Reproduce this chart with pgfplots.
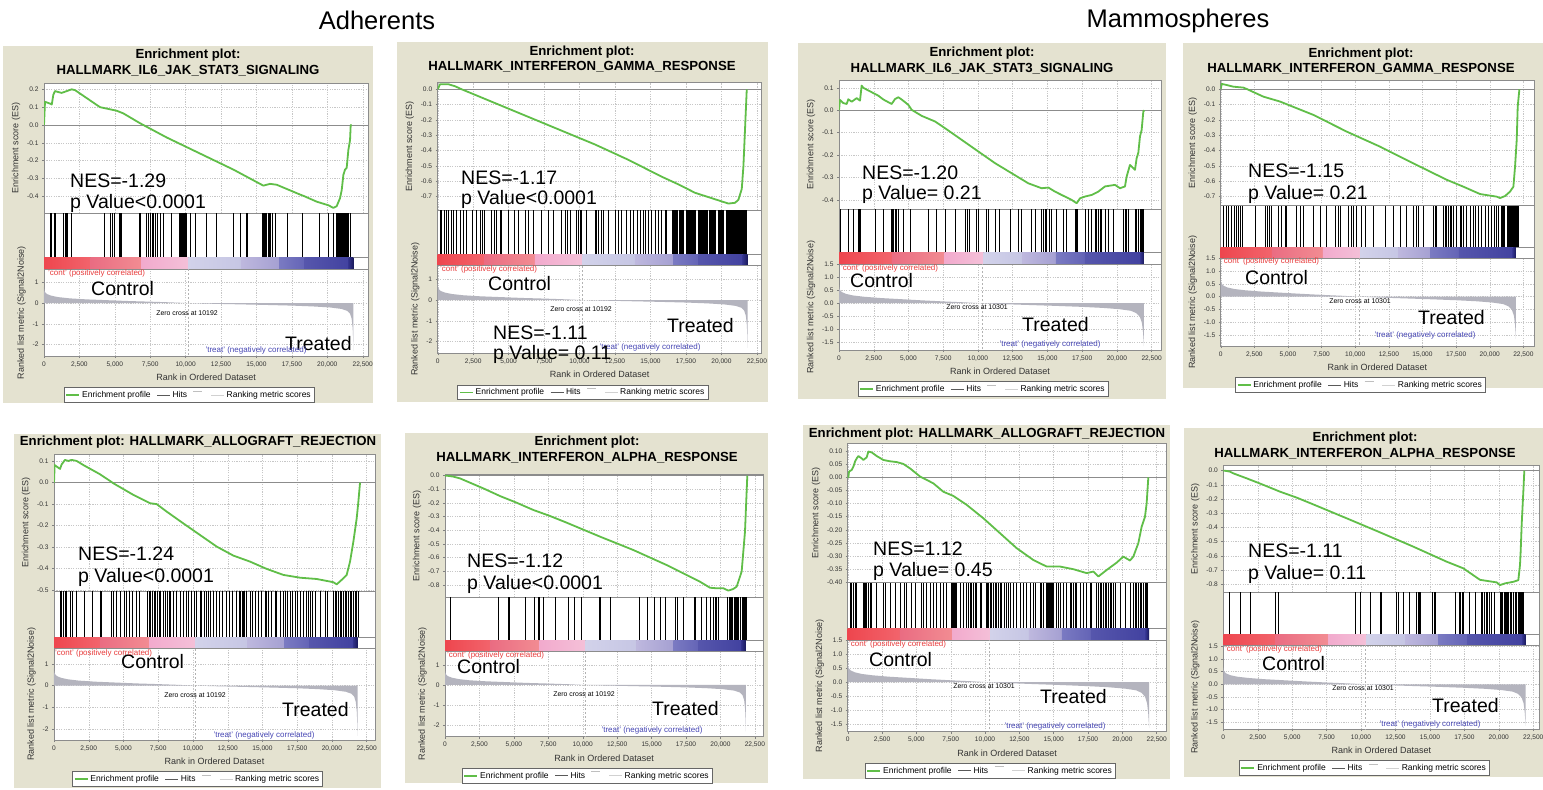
\documentclass[border=0pt]{standalone}
\usepackage{pgfplots}
\pgfplotsset{compat=1.18}
\usepackage{pgfplotstable}
\usepackage{fontspec}
\setmainfont{Liberation Sans}

\definecolor{beige}{RGB}{228,226,208}
\definecolor{esgreen}{RGB}{96,190,72}
\definecolor{contred}{RGB}{232,60,60}
\definecolor{treatblue}{RGB}{70,70,180}
\definecolor{metgray}{RGB}{180,180,190}
\definecolor{cbr1}{RGB}{238,70,78}\definecolor{cbr2}{RGB}{242,100,108}
\definecolor{cbs1}{RGB}{234,108,130}\definecolor{cbs2}{RGB}{242,140,146}
\definecolor{cbp1}{RGB}{242,170,205}\definecolor{cbp2}{RGB}{244,192,216}
\definecolor{cbl1}{RGB}{210,210,234}\definecolor{cbl2}{RGB}{198,198,228}
\definecolor{cbm1}{RGB}{190,184,222}\definecolor{cbm2}{RGB}{165,160,210}
\definecolor{cbb1}{RGB}{122,122,194}\definecolor{cbb2}{RGB}{100,100,182}
\definecolor{cbd1}{RGB}{86,86,172}\definecolor{cbd2}{RGB}{66,66,160}
\definecolor{cbn1}{RGB}{50,50,140}\definecolor{cbn2}{RGB}{25,25,90}

\newcommand\tickf{\fontsize{6.6}{7}\selectfont}
\newcommand\labf{\fontsize{9}{10}\selectfont}
\newcommand\legf{\fontsize{8.5}{9}\selectfont}
\newcommand\titf{\fontsize{13.2}{14}\selectfont\bfseries}
\newcommand\bigf{\fontsize{19.5}{21}\selectfont}
\newcommand\smf{\fontsize{8}{9}\selectfont}
\newcommand\zcf{\fontsize{6.9}{7}\selectfont}

\tikzset{bigt/.style={font=\bigf, anchor=base west, inner sep=0pt},
  conttxt/.style={font=\smf, text=contred, anchor=west, inner sep=0pt},
  treattxt/.style={font=\smf, text=treatblue, inner sep=0pt}}

\pgfplotstableread{
x y
0 0
0 0.80
25 0.62
80 0.52
200 0.44
500 0.36
1000 0.29
1800 0.23
3000 0.18
4500 0.14
6000 0.10
7500 0.07
9000 0.035
10192 0
11500 -0.025
13500 -0.055
15500 -0.085
17500 -0.12
19000 -0.16
20200 -0.21
21000 -0.28
21400 -0.37
21600 -0.50
21720 -0.75
21790 -1.2
21830 -1.8
21850 -2.3
21850 0
}\metAdh

\pgfplotstableread{
x y
0 0
0 0.70
25 0.58
80 0.50
200 0.43
500 0.36
1000 0.30
1800 0.25
3000 0.20
4500 0.155
6000 0.11
7500 0.07
9000 0.035
10301 0
11500 -0.03
13500 -0.065
15500 -0.10
17500 -0.14
19000 -0.18
20200 -0.23
21000 -0.29
21400 -0.38
21650 -0.52
21800 -0.75
21880 -1.1
21920 -1.4
21950 -1.65
21950 0
}\metMam

\pgfplotsset{
 legend image code/.code={\draw[#1] (0pt,0pt) -- (13pt,0pt);},
 gbase/.style={scale only axis, anchor=north west, xmin=0,
   axis line style={draw=black!45, line width=0.5pt},
   scaled x ticks=false, scaled y ticks=false,
   /pgf/number format/assume math mode=true,
   /pgf/number format/1000 sep={,},
   tick style={draw=black!50, line width=0.4pt},
   major tick length=2pt, tick align=outside,
   ticklabel style={font=\tickf, text=black!80},
   xtick={0,2500,5000,7500,10000,12500,15000,17500,20000,22500},
   grid style={draw=black!22, line width=0.4pt, dash pattern=on 1.2pt off 1.2pt},
   label style={font=\labf, text=black!80},
   axis background/.style={fill=white}},
 esax/.style={gbase, xticklabels={}, xtick style={draw=none}, xmajorgrids, ymajorgrids,
   ytick pos=left, ylabel={Enrichment score (ES)},
   yticklabel style={/pgf/number format/.cd, fixed, fixed zerofill, precision=1}},
 hitsax/.style={gbase, ymin=0, ymax=1, xtick=\empty, ytick=\empty},
 metax/.style={gbase, xmajorgrids, ymajorgrids, xtick pos=bottom, ytick pos=left,
   xlabel={Rank in Ordered Dataset}, ylabel={Ranked list metric (Signal2Noise)},
   legend style={at={(0.5,0)}, anchor=center, xshift=-17pt, yshift=-39pt,
     legend columns=4, draw=black!60, line width=0.5pt, font=\legf, inner sep=1.5pt,
     fill=white, /tikz/every even column/.append style={column sep=4pt}},
   legend cell align=left},
 mamticks/.style={ytick={-1.5,-1,-0.5,0,0.5,1,1.5},
   yticklabel style={/pgf/number format/.cd, fixed, fixed zerofill, precision=1}},
 adhticks/.style={ytick={-2,-1,0,1}},
 esline/.style={draw=esgreen, line width=1.8pt, line join=round, forget plot},
 zeroline/.style={draw=black!45, line width=0.6pt, forget plot},
 hitline/.style={ycomb, draw=black, line width=0.75pt, mark=none, forget plot},
 hitblock/.style={fill=black, draw=none, forget plot},
 metfill/.style={fill=metgray, draw=none, forget plot},
 zcline/.style={draw=black!30, line width=0.5pt, dash pattern=on 2pt off 2pt, forget plot},
}

\newcommand\legendstuff{%
\addlegendimage{esgreen, line width=1.6pt}\addlegendentry{Enrichment profile}
\addlegendimage{black!65, line width=0.9pt}\addlegendentry{Hits}
\addlegendimage{legend image code/.code={\draw[black!25,line width=0.6pt] (0pt,4pt)--(9pt,4pt);}}\addlegendentry{}
\addlegendimage{black!18, line width=0.9pt}\addlegendentry{Ranking metric scores}}

\newcommand\cbarAdh{%
\addplot[draw=none,left color=cbr1,right color=cbr2,forget plot] coordinates {(0,0)(3300,0)(3300,1)(0,1)} --cycle;
\addplot[draw=none,left color=cbs1,right color=cbs2,forget plot] coordinates {(3300,0)(6850,0)(6850,1)(3300,1)} --cycle;
\addplot[draw=none,left color=cbp1,right color=cbp2,forget plot] coordinates {(6850,0)(10192,0)(10192,1)(6850,1)} --cycle;
\addplot[draw=none,left color=cbl1,right color=cbl2,forget plot] coordinates {(10192,0)(13900,0)(13900,1)(10192,1)} --cycle;
\addplot[draw=none,left color=cbm1,right color=cbm2,forget plot] coordinates {(13900,0)(16600,0)(16600,1)(13900,1)} --cycle;
\addplot[draw=none,left color=cbb1,right color=cbb2,forget plot] coordinates {(16600,0)(18400,0)(18400,1)(16600,1)} --cycle;
\addplot[draw=none,left color=cbd1,right color=cbd2,forget plot] coordinates {(18400,0)(21500,0)(21500,1)(18400,1)} --cycle;
\addplot[draw=none,left color=cbn1,right color=cbn2,forget plot] coordinates {(21500,0)(21850,0)(21850,1)(21500,1)} --cycle;}

\newcommand\cbarMam{%
\addplot[draw=none,left color=cbr1,right color=cbr2,forget plot] coordinates {(0,0)(3800,0)(3800,1)(0,1)} --cycle;
\addplot[draw=none,left color=cbs1,right color=cbs2,forget plot] coordinates {(3800,0)(7600,0)(7600,1)(3800,1)} --cycle;
\addplot[draw=none,left color=cbp1,right color=cbp2,forget plot] coordinates {(7600,0)(10400,0)(10400,1)(7600,1)} --cycle;
\addplot[draw=none,left color=cbl1,right color=cbl2,forget plot] coordinates {(10400,0)(13200,0)(13200,1)(10400,1)} --cycle;
\addplot[draw=none,left color=cbm1,right color=cbm2,forget plot] coordinates {(13200,0)(15600,0)(15600,1)(13200,1)} --cycle;
\addplot[draw=none,left color=cbb1,right color=cbb2,forget plot] coordinates {(15600,0)(17700,0)(17700,1)(15600,1)} --cycle;
\addplot[draw=none,left color=cbd1,right color=cbd2,forget plot] coordinates {(17700,0)(21700,0)(21700,1)(17700,1)} --cycle;
\addplot[draw=none,left color=cbn1,right color=cbn2,forget plot] coordinates {(21700,0)(21950,0)(21950,1)(21700,1)} --cycle;}

\begin{document}
\begin{tikzpicture}
\fill[white] (0pt,0pt) rectangle (1543pt,-790pt);
\useasboundingbox (0pt,0pt) rectangle (1543pt,-790pt);

\node[font=\fontsize{25.5}{27}\selectfont] at (377pt,-20.5pt) {Adherents};
\node[font=\fontsize{25.5}{27}\selectfont] at (1178pt,-20.5pt) {Mammospheres};

\fill[beige] (3pt,-46pt) rectangle (373pt,-403pt);
\fill[beige] (397pt,-42pt) rectangle (768pt,-402pt);
\fill[beige] (798pt,-43pt) rectangle (1166pt,-399pt);
\fill[beige] (1183pt,-43pt) rectangle (1543pt,-388pt);
\fill[beige] (14pt,-434pt) rectangle (381pt,-788pt);
\fill[beige] (405pt,-433pt) rectangle (768pt,-783pt);
\fill[beige] (803pt,-425pt) rectangle (1170pt,-779pt);
\fill[beige] (1184pt,-428pt) rectangle (1543pt,-777pt);

% ================= P1 =================
\node[font=\titf] at (188pt,-55pt) {Enrichment plot:};
\node[font=\titf] at (188pt,-71pt) {HALLMARK\_IL6\_JAK\_STAT3\_SIGNALING};
\begin{axis}[esax, at={(44pt,-83pt)}, width=324.3pt, height=130pt, xmax=22895,
  ymin=-0.4935, ymax=0.2355, ytick={-0.4,-0.3,-0.2,-0.1,0,0.1,0.2}]
\addplot[zeroline] coordinates {(0,0)(40000,0)};
\addplot[esline] coordinates {(0,0)(71,0.13)(424,0.12)(550,0.115)(659,0.17)(777,0.19)(1000,0.185)(1247,0.18)(1600,0.19)(1954,0.20)(2200,0.195)(3954,0.10)(5131,0.08)(5602,0.065)(6778,0.01)(7014,0)(8661,-0.07)(11015,-0.16)(13368,-0.25)(15487,-0.34)(15957,-0.33)(16428,-0.335)(18076,-0.39)(18400,-0.40)(19252,-0.43)(20076,-0.45)(20429,-0.465)(20665,-0.455)(20900,-0.41)(21018,-0.365)(21135,-0.28)(21253,-0.25)(21370,-0.24)(21488,-0.14)(21606,-0.085)(21653,0)(21724,0)};
\end{axis}
\begin{axis}[hitsax, at={(44pt,-213pt)}, width=324.3pt, height=44pt, xmax=22895]
\addplot[hitline] coordinates {(424,1)(541,1)(706,1)(800,1)(1365,1)(1507,1)(1601,1)(1671,1)(1954,1)(4237,1)(4661,1)(4802,1)(4943,1)(5320,1)(5391,1)(5461,1)(6732,1)(6803,1)(7250,1)(7392,1)(7533,1)(7627,1)(7721,1)(7862,1)(8004,1)(8192,1)(8427,1)(9016,1)(9557,1)(9628,1)(9698,1)(9769,1)(9840,1)(9910,1)(10005,1)(10075,1)(10310,1)(10664,1)(11488,1)(12194,1)(13371,1)(13842,1)(14265,1)(14359,1)(15395,1)(15489,1)(15560,1)(15654,1)(15725,1)(15819,1)(15913,1)(16007,1)(16148,1)(16313,1)(17184,1)(18220,1)(19421,1)(20080,1)(20433,1)(20621,1)(20692,1)(20762,1)(20833,1)(20904,1)(20974,1)(21045,1)(21115,1)(21186,1)(21256,1)(21327,1)(21421,1)(21516,1)(21610,1)};
\end{axis}
\begin{axis}[hitsax, at={(44pt,-257pt)}, width=324.3pt, height=12pt, xmax=22895]
\cbarAdh
\end{axis}
\begin{axis}[metax, adhticks, at={(44pt,-269pt)}, width=324.3pt, height=87pt, xmax=22895, ymin=-2.55, ymax=1.645]
\addplot[metfill] table {\metAdh} -- cycle;
\addplot[zcline] coordinates {(10192,-5)(10192,5)};
\legendstuff
\end{axis}
\node[bigt] at (70pt,-187pt) {NES=-1.29};
\node[bigt] at (70pt,-208pt) {p Value<0.0001};
\node[bigt] at (91pt,-295pt) {Control};
\node[bigt] at (285pt,-350pt) {Treated};
\node[font=\zcf] at (187pt,-313pt) {Zero cross at 10192};
\node[treattxt] at (256pt,-350pt) {'treat' (negatively correlated)};
\node[conttxt] at (48pt,-273pt) {'cont' (positively correlated)};

% ================= P2 =================
\node[font=\titf] at (582pt,-52pt) {Enrichment plot:};
\node[font=\titf] at (582pt,-67pt) {HALLMARK\_INTERFERON\_GAMMA\_RESPONSE};
\begin{axis}[esax, at={(437.7pt,-82.7pt)}, width=324pt, height=127.3pt, xmax=22838,
  ymin=-0.787, ymax=0.043, ytick={-0.7,-0.6,-0.5,-0.4,-0.3,-0.2,-0.1,0}]
\addplot[zeroline] coordinates {(0,0)(40000,0)};
\addplot[esline] coordinates {(0,0)(165,0.033)(752,0.033)(1222,0.02)(1692,0)(2867,-0.045)(4042,-0.09)(6392,-0.18)(8742,-0.27)(11092,-0.36)(13442,-0.46)(15792,-0.57)(16967,-0.62)(18142,-0.675)(19317,-0.71)(20492,-0.745)(20962,-0.74)(21197,-0.72)(21432,-0.65)(21550,-0.5)(21667,-0.25)(21785,0)};
\end{axis}
\begin{axis}[hitsax, at={(437.7pt,-210pt)}, width=324pt, height=44pt, xmax=22838]
\addplot[hitline] coordinates {(165,1)(282,1)(447,1)(588,1)(752,1)(940,1)(1105,1)(1340,1)(1575,1)(1810,1)(2045,1)(2444,1)(2750,1)(2985,1)(3149,1)(3290,1)(3807,1)(3995,1)(4160,1)(4395,1)(4512,1)(4982,1)(5405,1)(5687,1)(6157,1)(6392,1)(6745,1)(7332,1)(7802,1)(8155,1)(8742,1)(8977,1)(9165,1)(9353,1)(9800,1)(9917,1)(10035,1)(10152,1)(10505,1)(11092,1)(11186,1)(11327,1)(11515,1)(11680,1)(12032,1)(12502,1)(12737,1)(12972,1)(13325,1)(13560,1)(13795,1)(14100,1)(14265,1)(14500,1)(14664,1)(14852,1)(15087,1)(15322,1)(15557,1)(15792,1)(16027,1)(16145,1)};
\addplot[hitblock] coordinates {(16497,0)(16920,0)(16920,1)(16497,1)} --cycle;
\addplot[hitblock] coordinates {(17038,0)(17343,0)(17343,1)(17038,1)} --cycle;
\addplot[hitblock] coordinates {(17484,0)(18189,0)(18189,1)(17484,1)} --cycle;
\addplot[hitblock] coordinates {(18330,0)(19035,0)(19035,1)(18330,1)} --cycle;
\addplot[hitblock] coordinates {(19153,0)(19599,0)(19599,1)(19153,1)} --cycle;
\addplot[hitblock] coordinates {(19740,0)(20210,0)(20210,1)(19740,1)} --cycle;
\addplot[hitblock] coordinates {(20328,0)(21785,0)(21785,1)(20328,1)} --cycle;
\end{axis}
\begin{axis}[hitsax, at={(437.7pt,-254pt)}, width=324pt, height=11.3pt, xmax=22838]
\cbarAdh
\end{axis}
\begin{axis}[metax, adhticks, at={(437.7pt,-265.3pt)}, width=324pt, height=88pt, xmax=22838, ymin=-2.56, ymax=1.67]
\addplot[metfill] table {\metAdh} -- cycle;
\addplot[zcline] coordinates {(10192,-5)(10192,5)};
\legendstuff
\end{axis}
\node[bigt] at (461pt,-184pt) {NES=-1.17};
\node[bigt] at (461pt,-204pt) {p Value<0.0001};
\node[bigt] at (488pt,-290pt) {Control};
\node[bigt] at (667pt,-332pt) {Treated};
\node[font=\zcf] at (581pt,-309pt) {Zero cross at 10192};
\node[treattxt] at (650pt,-347pt) {'treat' (negatively correlated)};
\node[conttxt] at (440pt,-269pt) {'cont' (positively correlated)};
\node[bigt] at (493pt,-339pt) {NES=-1.11};
\node[bigt] at (493pt,-359pt) {p Value= 0.11};

% ================= P3 =================
\node[font=\titf] at (982pt,-53pt) {Enrichment plot:};
\node[font=\titf] at (982pt,-69pt) {HALLMARK\_IL6\_JAK\_STAT3\_SIGNALING};
\begin{axis}[esax, at={(839pt,-80pt)}, width=322pt, height=129.3pt, xmax=23176,
  ymin=-0.442, ymax=0.135, ytick={-0.4,-0.3,-0.2,-0.1,0,0.1}]
\addplot[zeroline] coordinates {(0,0)(40000,0)};
\addplot[esline] coordinates {(0,0)(72,0.046)(312,0.032)(552,0.028)(672,0.049)(912,0.038)(1271,0.054)(1511,0.043)(1631,0.11)(1751,0.10)(2831,0.065)(3191,0.048)(3790,0.028)(4030,0.05)(4270,0.058)(4510,0.048)(4990,0.024)(5230,0.002)(5950,-0.025)(6909,-0.05)(7629,-0.08)(8828,-0.132)(10028,-0.184)(11227,-0.236)(12427,-0.281)(13626,-0.326)(14586,-0.348)(15066,-0.345)(15545,-0.363)(16025,-0.378)(16745,-0.40)(17105,-0.415)(17345,-0.393)(17705,-0.385)(18184,-0.378)(18664,-0.363)(19144,-0.34)(19864,-0.333)(20224,-0.348)(20583,-0.34)(20703,-0.296)(20943,-0.244)(21303,-0.266)(21423,-0.214)(21543,-0.19)(21663,-0.117)(21783,-0.088)(21903,-0.006)(21975,0)};
\end{axis}
\begin{axis}[hitsax, at={(839pt,-209.3pt)}, width=322pt, height=43.4pt, xmax=23176]
\addplot[hitline] coordinates {(72,1)(672,1)(1032,1)(1391,1)(1463,1)(1511,1)(1559,1)(2591,1)(3191,1)(3742,1)(3838,1)(3934,1)(4030,1)(4150,1)(4270,1)(4630,1)(5110,1)(6429,1)(7029,1)(7629,1)(7677,1)(8349,1)(9116,1)(9260,1)(9356,1)(9908,1)(10028,1)(10628,1)(10748,1)(11227,1)(11515,1)(12307,1)(12907,1)(13147,1)(13866,1)(14154,1)(14586,1)(14706,1)(14826,1)(14946,1)(15114,1)(15306,1)(15665,1)(16145,1)(16385,1)(17033,1)(17105,1)(17177,1)(17705,1)(17944,1)(18184,1)(18424,1)(18544,1)(18664,1)(18784,1)(18904,1)(19144,1)(19384,1)(19744,1)(20463,1)(20583,1)(20703,1)(20823,1)(21303,1)(21423,1)(21543,1)(21663,1)(21735,1)(21807,1)(21879,1)};
\end{axis}
\begin{axis}[hitsax, at={(839pt,-252.7pt)}, width=322pt, height=11.3pt, xmax=23176]
\cbarMam
\end{axis}
\begin{axis}[metax, mamticks, at={(839pt,-264pt)}, width=322pt, height=86pt, xmax=23176, ymin=-1.80, ymax=1.51]
\addplot[metfill] table {\metMam} -- cycle;
\addplot[zcline] coordinates {(10301,-5)(10301,5)};
\legendstuff
\end{axis}
\node[bigt] at (862pt,-179pt) {NES=-1.20};
\node[bigt] at (862pt,-199pt) {p Value= 0.21};
\node[bigt] at (850pt,-287pt) {Control};
\node[bigt] at (1022pt,-331pt) {Treated};
\node[font=\zcf] at (977pt,-307pt) {Zero cross at 10301};
\node[treattxt] at (1050pt,-344pt) {'treat' (negatively correlated)};
\node[conttxt] at (841pt,-268pt) {'cont' (positively correlated)};

% ================= P4 =================
\node[font=\titf] at (1361pt,-54pt) {Enrichment plot:};
\node[font=\titf] at (1361pt,-69pt) {HALLMARK\_INTERFERON\_GAMMA\_RESPONSE};
\begin{axis}[esax, at={(1220.7pt,-80.7pt)}, width=313.3pt, height=125pt, xmax=23290,
  ymin=-0.759, ymax=0.056, ytick={-0.7,-0.6,-0.5,-0.4,-0.3,-0.2,-0.1,0}]
\addplot[zeroline] coordinates {(0,0)(40000,0)};
\addplot[esline] coordinates {(0,0)(74,0.035)(446,0.028)(942,0.017)(1685,0.011)(1933,0.002)(3172,-0.048)(4411,-0.08)(6889,-0.167)(9367,-0.276)(11845,-0.374)(14323,-0.483)(16801,-0.59)(18040,-0.635)(19279,-0.683)(20518,-0.70)(20766,-0.709)(21137,-0.696)(21509,-0.667)(21757,-0.635)(21881,-0.504)(22005,-0.33)(22079,-0.113)(22203,0)};
\end{axis}
\begin{axis}[hitsax, at={(1220.7pt,-205.7pt)}, width=313.3pt, height=41.6pt, xmax=23290]
\addplot[hitline] coordinates {(198,1)(396,1)(570,1)(818,1)(991,1)(1189,1)(1313,1)(1487,1)(1611,1)(2552,1)(3296,1)(3469,1)(3618,1)(3791,1)(4287,1)(4535,1)(4782,1)(4857,1)(5650,1)(5898,1)(6145,1)(6889,1)(7384,1)(7880,1)(8500,1)(8747,1)(8871,1)(9491,1)(9739,1)(9862,1)(10110,1)(10482,1)(10730,1)(11349,1)(12217,1)(12836,1)(13332,1)(13827,1)(14323,1)(14571,1)(14695,1)(15066,1)(15810,1)(15934,1)(16057,1)(16553,1)(16677,1)(16801,1)(16925,1)(17049,1)(17173,1)(17296,1)(17544,1)(17792,1)(17916,1)(18040,1)(18288,1)(18535,1)(18783,1)(18907,1)(19155,1)(19403,1)(19651,1)(19898,1)(20146,1)(20320,1)(20518,1)(20642,1)};
\addplot[hitblock] coordinates {(20815,0)(21137,0)(21137,1)(20815,1)} --cycle;
\addplot[hitblock] coordinates {(21261,0)(22178,0)(22178,1)(21261,1)} --cycle;
\end{axis}
\begin{axis}[hitsax, at={(1220.7pt,-247.3pt)}, width=313.3pt, height=11pt, xmax=23290]
\cbarMam
\end{axis}
\begin{axis}[metax, mamticks, at={(1220.7pt,-258.3pt)}, width=313.3pt, height=87.7pt, xmax=23290, ymin=-1.93, ymax=1.50]
\addplot[metfill] table {\metMam} -- cycle;
\addplot[zcline] coordinates {(10301,-5)(10301,5)};
\legendstuff
\end{axis}
\node[bigt] at (1248pt,-177pt) {NES=-1.15};
\node[bigt] at (1248pt,-199pt) {p Value= 0.21};
\node[bigt] at (1245pt,-284pt) {Control};
\node[bigt] at (1418pt,-324pt) {Treated};
\node[font=\zcf] at (1360pt,-301pt) {Zero cross at 10301};
\node[treattxt] at (1425pt,-335pt) {'treat' (negatively correlated)};
\node[conttxt] at (1222pt,-261pt) {'cont' (positively correlated)};

% ================= P5 =================
\node[font=\titf] at (198pt,-442pt) {Enrichment plot: HALLMARK\_ALLOGRAFT\_REJECTION};
\begin{axis}[esax, at={(54pt,-454.3pt)}, width=321pt, height=136.7pt, xmax=23100,
  ymin=-0.505, ymax=0.132, ytick={-0.5,-0.4,-0.3,-0.2,-0.1,0,0.1}]
\addplot[zeroline] coordinates {(0,0)(40000,0)};
\addplot[esline] coordinates {(0,0)(48,0.082)(192,0.075)(432,0.064)(552,0.085)(792,0.106)(1032,0.101)(1271,0.106)(1631,0.101)(2111,0.082)(3311,0.039)(4030,0.008)(4270,-0.003)(5710,-0.057)(6909,-0.096)(7389,-0.10)(8109,-0.135)(9308,-0.19)(10508,-0.244)(11707,-0.298)(12907,-0.34)(14106,-0.368)(15306,-0.402)(16505,-0.43)(17705,-0.443)(18904,-0.449)(20104,-0.464)(20344,-0.474)(20703,-0.453)(21063,-0.43)(21303,-0.368)(21543,-0.275)(21783,-0.166)(21903,-0.089)(22023,0)};
\end{axis}
\begin{axis}[hitsax, at={(54pt,-591pt)}, width=321pt, height=46pt, xmax=23100]
\addplot[hitline] coordinates {(432,1)(552,1)(672,1)(792,1)(912,1)(1200,1)(1343,1)(1583,1)(2159,1)(2783,1)(3311,1)(3407,1)(4150,1)(4270,1)(4510,1)(4750,1)(5038,1)(5230,1)(5422,1)(5662,1)(5950,1)(6141,1)(6741,1)(6837,1)(6957,1)(7077,1)(7197,1)(7317,1)(7437,1)(7557,1)(7677,1)(7869,1)(8013,1)(8157,1)(8277,1)(8397,1)(8588,1)(8828,1)(9068,1)(9308,1)(9548,1)(9692,1)(9908,1)(10076,1)(10268,1)(10508,1)(10628,1)(10796,1)(10939,1)(11107,1)(11275,1)(11467,1)(11659,1)(11899,1)(12139,1)(12379,1)(12619,1)(12859,1)(13099,1)(13338,1)(13434,1)(13530,1)(13626,1)(13722,1)(13818,1)(14106,1)(14298,1)(14466,1)(14706,1)(14946,1)(15186,1)(15306,1)(15450,1)(15666,1)(15906,1)(16025,1)(16265,1)(16505,1)(16625,1)(16793,1)(16985,1)(17129,1)(17345,1)(17513,1)(17705,1)(17945,1)(18136,1)(18304,1)(18472,1)(18616,1)(18784,1)(19144,1)(19504,1)(19672,1)(20104,1)(20224,1)(20344,1)(20463,1)(20583,1)(20703,1)(20823,1)(20943,1)(21063,1)(21183,1)(21303,1)(21423,1)(21543,1)(21663,1)(21783,1)(21903,1)};
\end{axis}
\begin{axis}[hitsax, at={(54pt,-637pt)}, width=321pt, height=11.3pt, xmax=23100]
\cbarAdh
\end{axis}
\begin{axis}[metax, adhticks, at={(54pt,-648.3pt)}, width=321pt, height=91.7pt, xmax=23100, ymin=-2.49, ymax=1.71]
\addplot[metfill] table {\metAdh} -- cycle;
\addplot[zcline] coordinates {(10192,-5)(10192,5)};
\legendstuff
\end{axis}
\node[bigt] at (78pt,-560pt) {NES=-1.24};
\node[bigt] at (78pt,-582pt) {p Value<0.0001};
\node[bigt] at (121pt,-668pt) {Control};
\node[bigt] at (282pt,-716pt) {Treated};
\node[font=\zcf] at (195pt,-695pt) {Zero cross at 10192};
\node[treattxt] at (264pt,-735pt) {'treat' (negatively correlated)};
\node[conttxt] at (55pt,-653pt) {'cont' (positively correlated)};

% ================= P6 =================
\node[font=\titf] at (587pt,-442pt) {Enrichment plot:};
\node[font=\titf] at (587pt,-458pt) {HALLMARK\_INTERFERON\_ALPHA\_RESPONSE};
\begin{axis}[esax, at={(445pt,-474.3pt)}, width=318.3pt, height=123pt, xmax=23110,
  ymin=-0.89, ymax=0.01, ytick={-0.8,-0.7,-0.6,-0.5,-0.4,-0.3,-0.2,-0.1,0}]
\addplot[zeroline] coordinates {(0,0)(40000,0)};
\addplot[esline] coordinates {(0,0)(121,0)(605,-0.007)(1089,-0.02)(2783,-0.093)(3993,-0.149)(5203,-0.198)(6413,-0.251)(7623,-0.295)(8833,-0.344)(11253,-0.446)(13673,-0.544)(16093,-0.654)(17303,-0.715)(18513,-0.776)(19239,-0.82)(19723,-0.824)(20207,-0.824)(20570,-0.841)(20933,-0.829)(21175,-0.812)(21417,-0.739)(21538,-0.702)(21659,-0.556)(21780,-0.41)(21901,-0.117)(21949,0)};
\end{axis}
\begin{axis}[hitsax, at={(445pt,-597.3pt)}, width=318.3pt, height=42.7pt, xmax=23110]
\addplot[hitline] coordinates {(411,1)(3896,1)(4622,1)(4646,1)(5808,1)(6486,1)(6776,1)(6849,1)(7139,1)(7986,1)(8954,1)(9365,1)(9922,1)(11205,1)(11253,1)(11301,1)(12027,1)(14109,1)(14689,1)(15173,1)(15609,1)(15972,1)(16698,1)(16867,1)(17303,1)(18077,1)(18126,1)(18174,1)(18634,1)(18949,1)(19287,1)(19481,1)(19602,1)(19723,1)(19844,1)(20522,1)(20618,1)(20691,1)(20788,1)(20885,1)(20981,1)(21078,1)(21175,1)(21248,1)(21320,1)(21417,1)};
\addplot[hitblock] coordinates {(21538,0)(21949,0)(21949,1)(21538,1)} --cycle;
\end{axis}
\begin{axis}[hitsax, at={(445pt,-640pt)}, width=318.3pt, height=11pt, xmax=23110]
\cbarAdh
\end{axis}
\begin{axis}[metax, adhticks, at={(445pt,-651pt)}, width=318.3pt, height=85.7pt, xmax=23110, ymin=-2.56, ymax=1.68]
\addplot[metfill] table {\metAdh} -- cycle;
\addplot[zcline] coordinates {(10192,-5)(10192,5)};
\legendstuff
\end{axis}
\node[bigt] at (467pt,-567pt) {NES=-1.12};
\node[bigt] at (467pt,-589pt) {p Value<0.0001};
\node[bigt] at (457pt,-673pt) {Control};
\node[bigt] at (652pt,-715pt) {Treated};
\node[font=\zcf] at (584pt,-694pt) {Zero cross at 10192};
\node[treattxt] at (652pt,-730pt) {'treat' (negatively correlated)};
\node[conttxt] at (447pt,-655pt) {'cont' (positively correlated)};

% ================= P7 =================
\node[font=\titf] at (987pt,-434pt) {Enrichment plot: HALLMARK\_ALLOGRAFT\_REJECTION};
\begin{axis}[esax, at={(847.7pt,-443.3pt)}, width=319pt, height=139.4pt, xmax=23230,
  ymin=-0.4015, ymax=0.1295, ytick={-0.4,-0.35,-0.3,-0.25,-0.2,-0.15,-0.1,-0.05,0,0.05,0.1},
  yticklabel style={/pgf/number format/.cd, fixed, fixed zerofill, precision=2}]
\addplot[zeroline] coordinates {(0,0)(40000,0)};
\addplot[esline] coordinates {(0,0)(49,0)(97,0.022)(291,0.028)(413,0.041)(534,0.06)(655,0.072)(777,0.081)(1019,0.072)(1141,0.066)(1383,0.076)(1505,0.098)(1747,0.095)(2111,0.081)(2597,0.066)(3082,0.061)(3568,0.058)(4053,0.051)(4538,0.034)(5267,0.003)(6237,-0.023)(6965,-0.055)(7694,-0.071)(8664,-0.105)(9878,-0.156)(11091,-0.213)(12305,-0.27)(13518,-0.315)(14489,-0.34)(15460,-0.34)(16431,-0.35)(17402,-0.365)(17887,-0.359)(18251,-0.378)(18858,-0.353)(19586,-0.325)(20071,-0.302)(20557,-0.317)(20799,-0.302)(21163,-0.251)(21406,-0.188)(21649,-0.15)(21770,-0.099)(21892,0)};
\end{axis}
\begin{axis}[hitsax, at={(847.7pt,-582.7pt)}, width=319pt, height=45.6pt, xmax=23230]
\addplot[hitline] coordinates {(170,1)(291,1)(413,1)(534,1)(655,1)(1141,1)(1214,1)(1286,1)(1383,1)(1505,1)(1626,1)(1747,1)(2111,1)(2597,1)(2718,1)(3082,1)(3446,1)(3810,1)(4102,1)(4296,1)(4660,1)(4903,1)(5388,1)(5509,1)(5703,1)(5995,1)(6237,1)(6480,1)(6723,1)(6965,1)(7208,1)(7572,1)(7645,1)(7718,1)(7791,1)(7863,1)(7936,1)(8179,1)(8422,1)(8664,1)(8786,1)(8907,1)(9028,1)(9150,1)(9271,1)(9392,1)(9635,1)(9757,1)(10121,1)(10193,1)(10266,1)(10363,1)(10485,1)(10606,1)(10727,1)(10849,1)(10970,1)(11091,1)(11213,1)(11383,1)(11577,1)(11698,1)(11819,1)(12062,1)(12305,1)(12548,1)(12790,1)(13033,1)(13276,1)(13518,1)(13640,1)(14004,1)(14125,1)(14246,1)(14489,1)(14562,1)(14635,1)(14708,1)(14780,1)(14853,1)(14926,1)(14999,1)(15217,1)(15339,1)(15460,1)(15703,1)(15945,1)(16188,1)(16309,1)(16431,1)(16552,1)(16673,1)(16916,1)(17159,1)(17402,1)(17644,1)(17766,1)(18130,1)(18251,1)(18372,1)(18494,1)(18615,1)(18736,1)(18858,1)(18979,1)(19100,1)(19222,1)(19343,1)(19465,1)(19829,1)(20193,1)(20557,1)(20799,1)(20921,1)(21042,1)(21163,1)(21285,1)(21406,1)(21527,1)(21649,1)(21770,1)(21843,1)};
\end{axis}
\begin{axis}[hitsax, at={(847.7pt,-628.3pt)}, width=319pt, height=11.7pt, xmax=23230]
\cbarMam
\end{axis}
\begin{axis}[metax, mamticks, at={(847.7pt,-640pt)}, width=319pt, height=91.7pt, xmax=23230, ymin=-1.78, ymax=1.52]
\addplot[metfill] table {\metMam} -- cycle;
\addplot[zcline] coordinates {(10301,-5)(10301,5)};
\legendstuff
\end{axis}
\node[bigt] at (873pt,-555pt) {NES=1.12};
\node[bigt] at (873pt,-576pt) {p Value= 0.45};
\node[bigt] at (869pt,-666pt) {Control};
\node[bigt] at (1040pt,-703pt) {Treated};
\node[font=\zcf] at (984pt,-686pt) {Zero cross at 10301};
\node[treattxt] at (1055pt,-726pt) {'treat' (negatively correlated)};
\node[conttxt] at (849pt,-644pt) {'cont' (positively correlated)};

% ================= P8 =================
\node[font=\titf] at (1365pt,-438pt) {Enrichment plot:};
\node[font=\titf] at (1365pt,-454pt) {HALLMARK\_INTERFERON\_ALPHA\_RESPONSE};
\begin{axis}[esax, at={(1223.3pt,-465.7pt)}, width=316pt, height=126.6pt, xmax=22940,
  ymin=-0.858, ymax=0.035, ytick={-0.8,-0.7,-0.6,-0.5,-0.4,-0.3,-0.2,-0.1,0}]
\addplot[zeroline] coordinates {(0,0)(40000,0)};
\addplot[esline] coordinates {(0,0)(242,-0.002)(484,-0.007)(726,-0.019)(1694,-0.054)(2904,-0.10)(4114,-0.148)(5324,-0.19)(6534,-0.238)(8954,-0.336)(11374,-0.435)(13794,-0.536)(16214,-0.642)(17424,-0.689)(18634,-0.77)(19844,-0.788)(20086,-0.807)(20449,-0.795)(21054,-0.784)(21417,-0.772)(21538,-0.666)(21586,-0.572)(21659,-0.384)(21780,-0.148)(21853,0)};
\end{axis}
\begin{axis}[hitsax, at={(1223.3pt,-592.3pt)}, width=316pt, height=42pt, xmax=22940]
\addplot[hitline] coordinates {(436,1)(1210,1)(1984,1)(3751,1)(3993,1)(9607,1)(9922,1)(10648,1)(11374,1)(11447,1)(12536,1)(12705,1)(13068,1)(13504,1)(14036,1)(14133,1)(14230,1)(14326,1)(15198,1)(15294,1)(15367,1)(16819,1)(17134,1)(17230,1)(17327,1)(17424,1)(17860,1)(18271,1)(18707,1)(18828,1)(18924,1)(19070,1)(19191,1)(19312,1)(19481,1)(19650,1)(20134,1)(20207,1)(20280,1)(20376,1)(20449,1)(20522,1)(20618,1)(20691,1)(20812,1)(20933,1)(21054,1)(21175,1)(21296,1)};
\addplot[hitblock] coordinates {(21369,0)(21853,0)(21853,1)(21369,1)} --cycle;
\end{axis}
\begin{axis}[hitsax, at={(1223.3pt,-634.3pt)}, width=316pt, height=11.4pt, xmax=22940]
\cbarMam
\end{axis}
\begin{axis}[metax, mamticks, at={(1223.3pt,-645.7pt)}, width=316pt, height=83.3pt, xmax=22940, ymin=-1.77, ymax=1.525]
\addplot[metfill] table {\metMam} -- cycle;
\addplot[zcline] coordinates {(10301,-5)(10301,5)};
\legendstuff
\end{axis}
\node[bigt] at (1248pt,-557pt) {NES=-1.11};
\node[bigt] at (1248pt,-579pt) {p Value= 0.11};
\node[bigt] at (1262pt,-670pt) {Control};
\node[bigt] at (1432pt,-712pt) {Treated};
\node[font=\zcf] at (1363pt,-688pt) {Zero cross at 10301};
\node[treattxt] at (1430pt,-724pt) {'treat' (negatively correlated)};
\node[conttxt] at (1225pt,-649pt) {'cont' (positively correlated)};

\end{tikzpicture}
\end{document}
